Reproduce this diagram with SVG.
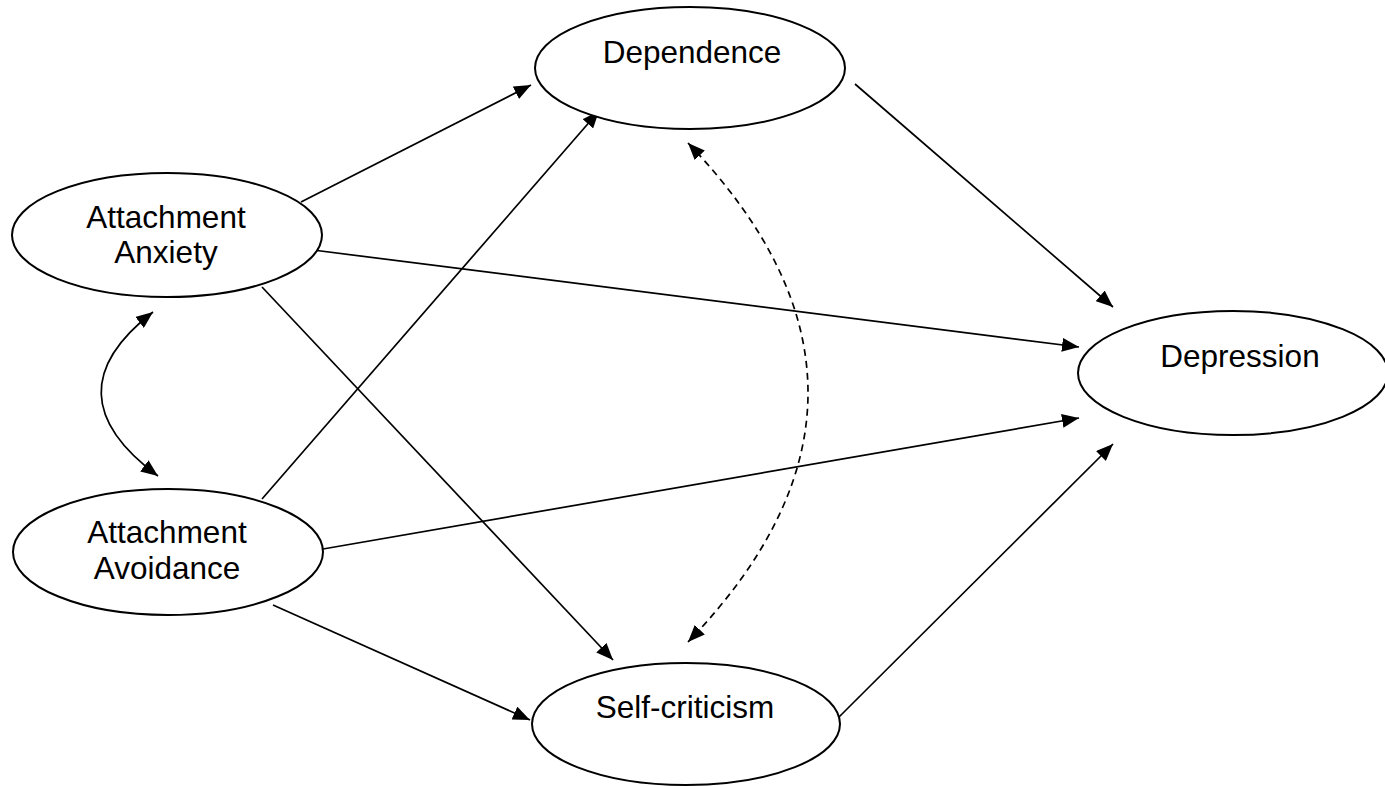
<svg xmlns="http://www.w3.org/2000/svg" width="1385" height="786" viewBox="0 0 1385 786">
<style>
.node ellipse{fill:#fff;stroke:#000;stroke-width:2}
.node text{font-family:"Liberation Sans",Arial,sans-serif;font-size:31.5px;fill:#000;text-anchor:middle}
.conn path,.conn line{fill:none;stroke:#000;stroke-width:1.7}
.dash{stroke-dasharray:7 5;stroke-width:1.8}
</style>
<defs>
<marker id="ah" viewBox="0 0 17 14" refX="17" refY="7" markerWidth="17" markerHeight="14" markerUnits="userSpaceOnUse" orient="auto-start-reverse">
<path d="M0,0 L17,7 L0,14 z" fill="#000" stroke="none"/>
</marker>
</defs>
<rect width="1385" height="786" fill="#fff"/>
<g id="connectors" class="conn">
<line x1="301" y1="202" x2="531" y2="85" marker-end="url(#ah)"/>
<line x1="262" y1="499" x2="599" y2="111" marker-end="url(#ah)"/>
<line x1="313" y1="250" x2="1079" y2="347" marker-end="url(#ah)"/>
<line x1="323" y1="549" x2="1079" y2="418" marker-end="url(#ah)"/>
<line x1="855" y1="84" x2="1113" y2="307" marker-end="url(#ah)"/>
<line x1="838" y1="718" x2="1113" y2="444" marker-end="url(#ah)"/>
<line x1="262" y1="287" x2="613" y2="660" marker-end="url(#ah)"/>
<line x1="273" y1="605" x2="530" y2="720" marker-end="url(#ah)"/>
<path d="M153,312 Q47,394 158,476" marker-start="url(#ah)" marker-end="url(#ah)"/>
<path class="dash" d="M688,143 Q928,393 688,642" marker-start="url(#ah)" marker-end="url(#ah)"/>
</g>
<g id="anxiety" class="node">
<ellipse cx="167" cy="235" rx="155" ry="62"/>
<text x="166" y="228">Attachment</text>
<text x="166" y="263">Anxiety</text>
</g>
<g id="avoidance" class="node">
<ellipse cx="168" cy="552" rx="155" ry="63"/>
<text x="167" y="543">Attachment</text>
<text x="167" y="579">Avoidance</text>
</g>
<g id="dependence" class="node">
<ellipse cx="690" cy="68" rx="155" ry="61"/>
<text x="692" y="63">Dependence</text>
</g>
<g id="depression" class="node">
<ellipse cx="1233" cy="373" rx="155" ry="62"/>
<text x="1240" y="367">Depression</text>
</g>
<g id="selfcriticism" class="node">
<ellipse cx="686" cy="724" rx="154" ry="61"/>
<text x="685" y="718">Self-criticism</text>
</g>
</svg>
